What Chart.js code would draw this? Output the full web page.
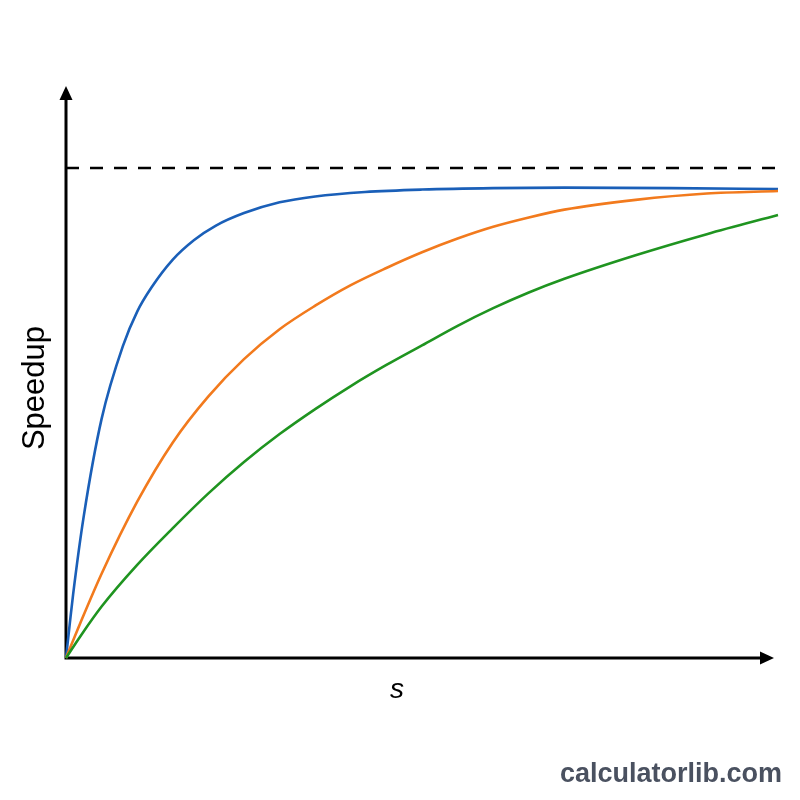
<!DOCTYPE html>
<html>
<head>
<meta charset="utf-8">
<title>Speedup vs s</title>
<script src="https://cdn.jsdelivr.net/npm/chart.js@4"></script>
<style>
  html, body { margin: 0; padding: 0; background: #ffffff; }
  #wrap { width: 800px; height: 800px; }
</style>
</head>
<body>
<div id="wrap"><canvas id="chart" width="800" height="800"></canvas></div>
<script>
// Data (x: s, y: speedup relative to the dashed limit)
const blueS = [0, 0.5, 1, 2.5, 5, 8, 10, 12, 15, 18, 21, 25, 30, 35, 42, 50, 60, 70, 85, 100];
const blueSpeedup = [0, 0.066, 0.13, 0.29, 0.488, 0.637, 0.707, 0.756, 0.813, 0.853, 0.882, 0.908, 0.93, 0.942, 0.951, 0.956, 0.959, 0.96, 0.959, 0.957];
const orangeS = [0, 2, 5, 10, 15, 20, 25, 30, 35, 40, 45, 50, 55, 60, 65, 70, 80, 90, 100];
const orangeSpeedup = [0, 0.071, 0.172, 0.319, 0.44, 0.534, 0.61, 0.671, 0.719, 0.761, 0.796, 0.828, 0.856, 0.88, 0.899, 0.915, 0.935, 0.948, 0.953];
const greenS = [0, 2, 5, 10, 15, 20, 25, 30, 35, 40, 45, 50, 55, 60, 65, 70, 80, 90, 100];
const greenSpeedup = [0, 0.044, 0.105, 0.19, 0.265, 0.336, 0.4, 0.457, 0.508, 0.555, 0.598, 0.638, 0.678, 0.714, 0.746, 0.774, 0.822, 0.865, 0.904];
const limitValue = 1;
const limitRange = [0, 100.3];

const xLabel = 's';
const yLabel = 'Speedup';
const watermark = 'calculatorlib.com';

const toPoints = (xs, ys) => xs.map((x, i) => ({ x, y: ys[i] }));

function curve(data, color) {
  return {
    data,
    borderColor: color,
    borderWidth: 2.6,
    pointRadius: 0,
    fill: false,
    clip: false,
    cubicInterpolationMode: 'monotone',
  };
}

// Axes with arrow heads + text labels
const axesPlugin = {
  id: 'axesArrows',
  beforeDatasetsDraw(chart) {
    const { ctx, scales: { x, y }, chartArea } = chart;
    const ox = x.getPixelForValue(0);
    const oy = y.getPixelForValue(0);
    const xEnd = chartArea.right - 4;
    const yEnd = chartArea.top;

    ctx.save();
    ctx.strokeStyle = '#000';
    ctx.fillStyle = '#000';
    ctx.lineWidth = 3;
    ctx.lineCap = 'butt';

    ctx.beginPath();
    ctx.moveTo(ox, oy);
    ctx.lineTo(xEnd - 10, oy);
    ctx.moveTo(ox, oy + 1.5);
    ctx.lineTo(ox, yEnd + 10);
    ctx.stroke();

    // x arrow
    ctx.beginPath();
    ctx.moveTo(xEnd, oy);
    ctx.lineTo(xEnd - 14, oy - 6.5);
    ctx.lineTo(xEnd - 14, oy + 6.5);
    ctx.closePath();
    ctx.fill();

    // y arrow
    ctx.beginPath();
    ctx.moveTo(ox, yEnd);
    ctx.lineTo(ox - 6.5, yEnd + 14);
    ctx.lineTo(ox + 6.5, yEnd + 14);
    ctx.closePath();
    ctx.fill();

    // labels
    ctx.textAlign = 'center';
    ctx.textBaseline = 'middle';
    ctx.font = "italic 28px 'Liberation Sans', Arial, sans-serif";
    ctx.fillText(xLabel, 397, 690);

    ctx.save();
    ctx.translate(35, 388);
    ctx.rotate(-Math.PI / 2);
    ctx.font = "31px 'Liberation Sans', Arial, sans-serif";
    ctx.fillText(yLabel, 0, 0);
    ctx.restore();

    ctx.textAlign = 'right';
    ctx.textBaseline = 'alphabetic';
    ctx.font = "bold 27px 'Liberation Sans', Arial, sans-serif";
    ctx.fillStyle = '#4a5160';
    ctx.fillText(watermark, 782, 782);
    ctx.restore();
  },
};

new Chart(document.getElementById('chart'), {
  type: 'line',
  data: {
    datasets: [
      {
        data: limitRange.map(x => ({ x, y: limitValue })),
        borderColor: '#000',
        borderWidth: 2.5,
        borderDash: [13, 11],
        pointRadius: 0,
        fill: false,
        clip: false,
      },
      curve(toPoints(greenS, greenSpeedup), '#1f9420'),
      curve(toPoints(orangeS, orangeSpeedup), '#f27a1d'),
      curve(toPoints(blueS, blueSpeedup), '#1a5fb8'),
    ],
  },
  plugins: [axesPlugin],
  options: {
    responsive: false,
    animation: false,
    layout: { padding: { left: 66, right: 22, top: 86, bottom: 142 } },
    scales: {
      x: { type: 'linear', min: 0, max: 100, display: false },
      y: { type: 'linear', min: 0, max: 572 / 490, display: false },
    },
    plugins: {
      legend: { display: false },
      tooltip: { enabled: false },
    },
  },
});
</script>
</body>
</html>
